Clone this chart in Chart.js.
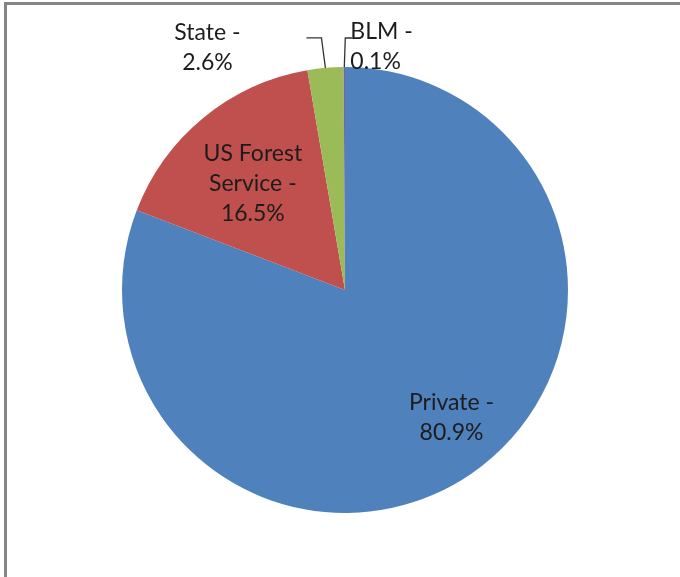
<!DOCTYPE html>
<html>
<head>
<meta charset="utf-8">
<script src="https://cdn.jsdelivr.net/npm/chart.js@4"></script>
<style>
  html, body { margin: 0; padding: 0; background: #fff; }
  #wrap { position: relative; width: 680px; height: 577px; overflow: hidden; }
  #frame { position: absolute; left: 4px; top: 2px; right: -10px; bottom: -10px;
           border-top: 3px solid #858585; border-left: 3px solid #858585; }
  canvas { position: absolute; left: 0; top: 0; }
</style>
</head>
<body>
<div id="wrap">
  <div id="frame"></div>
  <canvas id="pieChart" width="680" height="577"></canvas>
</div>
<script>
// ── data ──
const owners  = ['Private', 'US Forest Service', 'State', 'BLM'];
const shares  = [80.9, 16.5, 2.6, 0.1];
const colours = ['#4F81BD', '#C0504D', '#9BBB59', '#8064A2'];

// label placement: inside = fraction of radius, outside = offsets from arc edge
const labelPos = [
  { mode: 'in',  r: 0.74, dx: 13, dy: -8 },
  { mode: 'in',  r: 0.63, dx: -3, dy: 2 },
  { mode: 'out', elbow: [-4, -30], end: [-19, -30], text: [-118, -20], align: 'center' },
  { mode: 'out', elbow: [1, -29],  end: [8, -29],   text: [6, -20],    align: 'left' }
];

const FONT = '23px Lato, "Open Sans", sans-serif';
const LINE_H = 30;

function wrapLabel(ctx, txt, maxW) {
  const words = txt.split(' ');
  const lines = [];
  let cur = '';
  words.forEach(w => {
    const t = cur ? cur + ' ' + w : w;
    if (ctx.measureText(t).width > maxW && cur) { lines.push(cur); cur = w; }
    else cur = t;
  });
  if (cur) lines.push(cur);
  return lines;
}

const sliceLabels = {
  id: 'sliceLabels',
  afterDatasetsDraw(chart) {
    const ctx = chart.ctx;
    const arcs = chart.getDatasetMeta(0).data;
    ctx.save();
    ctx.font = FONT;
    ctx.fillStyle = '#1c1c1c';
    ctx.textBaseline = 'middle';
    arcs.forEach((arc, i) => {
      const p = labelPos[i];
      const mid = (arc.startAngle + arc.endAngle) / 2;
      const lines = wrapLabel(ctx, owners[i] + ' -', 125).concat([shares[i].toFixed(1) + '%']);
      let cx, cy;
      if (p.mode === 'in') {
        cx = arc.x + Math.cos(mid) * arc.outerRadius * p.r + p.dx;
        cy = arc.y + Math.sin(mid) * arc.outerRadius * p.r + p.dy;
      } else {
        const ex = arc.x + Math.cos(mid) * arc.outerRadius;
        const ey = arc.y + Math.sin(mid) * arc.outerRadius;
        ctx.beginPath();
        ctx.strokeStyle = '#333';
        ctx.lineWidth = 1.3;
        ctx.moveTo(ex, ey);
        ctx.lineTo(ex + p.elbow[0], ey + p.elbow[1]);
        ctx.lineTo(ex + p.end[0], ey + p.end[1]);
        ctx.stroke();
        cx = ex + p.text[0];
        cy = ey + p.text[1];
      }
      ctx.textAlign = p.align || 'center';
      const top = cy - (lines.length - 1) * LINE_H / 2;
      lines.forEach((ln, k) => ctx.fillText(ln, cx, top + k * LINE_H));
    });
    ctx.restore();
  }
};

new Chart(document.getElementById('pieChart').getContext('2d'), {
  type: 'pie',
  data: {
    labels: owners,
    datasets: [{
      data: shares,
      backgroundColor: colours,
      borderColor: '#ffffff',
      borderWidth: 0
    }]
  },
  options: {
    responsive: false,
    animation: false,
    layout: { padding: { left: 122, right: 112, top: 67, bottom: 64 } },
    plugins: {
      legend: { display: false },
      tooltip: { enabled: false }
    }
  },
  plugins: [sliceLabels]
});
</script>
</body>
</html>
